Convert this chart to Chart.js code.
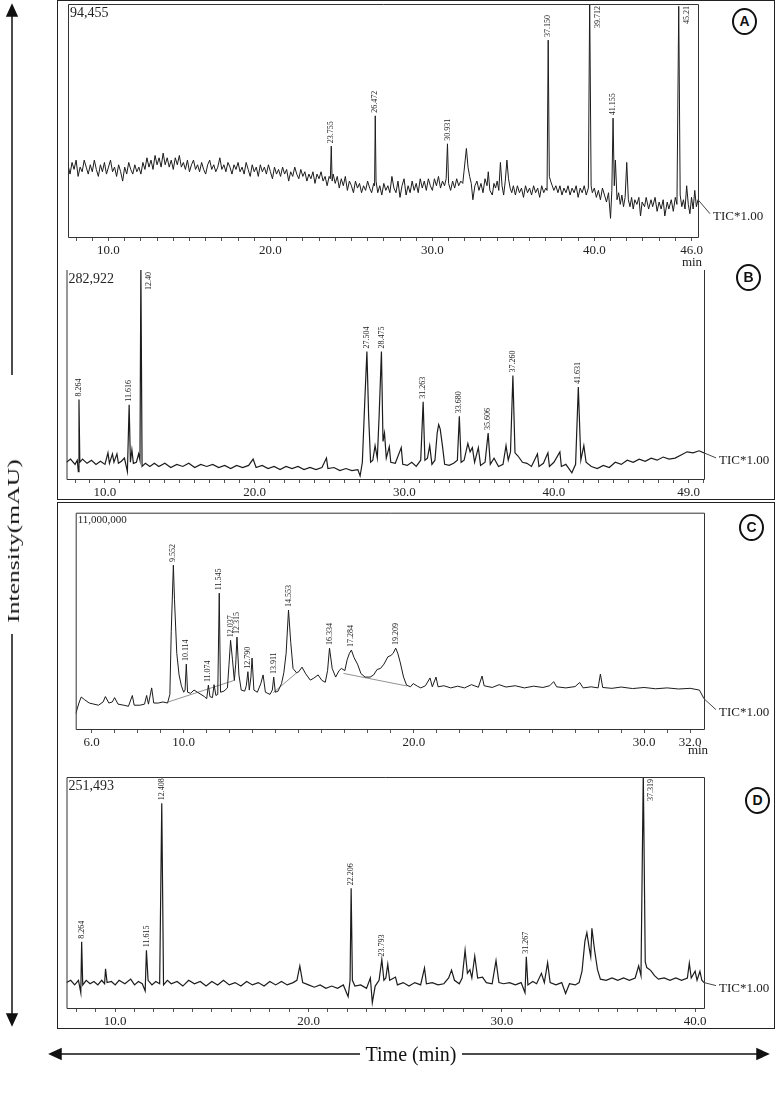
<!DOCTYPE html>
<html>
<head>
<meta charset="utf-8">
<script src="https://cdn.jsdelivr.net/npm/chart.js@4.4.1/dist/chart.umd.min.js"></script>
<style>
  body { margin: 0; background: #fff; width: 775px; height: 1109px; position: relative; overflow: hidden; font-family: "Liberation Serif", serif; }
  .frame { position: absolute; left: 57px; width: 718px; border: 1.5px solid #222; box-sizing: border-box; }
  canvas { position: absolute; left: 57px; }
  .tag { position: absolute; width: 25px; height: 27px; margin: -13px 0 0 -12px; border: 2.5px solid #111; border-radius: 50%; box-sizing: border-box;
         font: bold 14px "Liberation Sans", sans-serif; text-align: center; line-height: 22px; color: #111; background: #fff; }
  #ylab { position: absolute; left: 14px; top: 541px; white-space: nowrap; font-size: 16px; color: #111;
          transform: translate(-50%, -50%) rotate(-90deg) scaleX(1.6); }
  #xlab { position: absolute; left: 411px; top: 1054px; white-space: nowrap; font-size: 20px; color: #111; transform: translate(-50%, -50%); }
</style>
</head>
<body>
<div class="frame" style="top:0;height:500px"></div>
<div class="frame" style="top:502px;height:527px"></div>

<canvas id="chartA" width="718" height="268" style="top:0"></canvas>
<canvas id="chartB" width="718" height="232" style="top:268px"></canvas>
<canvas id="chartC" width="718" height="267" style="top:503px"></canvas>
<canvas id="chartD" width="718" height="258" style="top:770px"></canvas>

<div class="tag" style="left:744px;top:21px">A</div>
<div class="tag" style="left:748px;top:277px">B</div>
<div class="tag" style="left:751px;top:527px">C</div>
<div class="tag" style="left:757px;top:800px">D</div>

<svg width="775" height="1109" style="position:absolute;left:0;top:0;pointer-events:none">
  <g stroke="#111" stroke-width="1.5" fill="#111">
    <line x1="12" y1="14" x2="12" y2="375"/>
    <line x1="12" y1="634" x2="12" y2="1016"/>
    <polygon points="12,5 7,16 17,16"/>
    <polygon points="12,1025 7,1014 17,1014"/>
    <line x1="60" y1="1054" x2="360" y2="1054"/>
    <line x1="462" y1="1054" x2="758" y2="1054"/>
    <polygon points="50,1054 61,1049 61,1059"/>
    <polygon points="768,1054 757,1049 757,1059"/>
  </g>
</svg>
<div id="ylab">Intensity(mAU)</div>
<div id="xlab">Time (min)</div>

<script>
// retention time (min), relative intensity (% of full scale)
const traceA = [
  [7.5,31],[7.625,27],[7.75,32],[7.875,29],[8.0,33],[8.125,26],[8.25,30],[8.375,28],[8.5,33],[8.625,30],
  [8.75,27],[8.875,31],[9.0,28],[9.125,33],[9.25,29],[9.375,26],[9.5,31],[9.625,28],[9.75,32],[9.875,27],
  [10.0,30],[10.125,33],[10.25,28],[10.375,30],[10.5,26],[10.625,31],[10.75,28],[10.875,24],[11.0,30],[11.125,27],
  [11.25,32],[11.375,29],[11.5,27],[11.625,31],[11.75,28],[11.875,30],[12.0,27],[12.125,32],[12.25,29],[12.375,34],
  [12.5,30],[12.625,33],[12.75,29],[12.875,35],[13.0,31],[13.125,34],[13.25,30],[13.375,36],[13.5,31],[13.625,34],
  [13.75,30],[13.875,33],[14.0,29],[14.125,34],[14.25,31],[14.375,35],[14.5,30],[14.625,32],[14.75,29],[14.875,33],
  [15.0,28],[15.125,31],[15.25,33],[15.375,29],[15.5,31],[15.625,28],[15.75,32],[15.875,29],[16.0,27],[16.125,31],
  [16.25,33],[16.375,29],[16.5,31],[16.625,28],[16.75,30],[16.875,34],[17.0,29],[17.125,31],[17.25,28],[17.375,32],
  [17.5,30],[17.625,27],[17.75,31],[17.875,29],[18.0,32],[18.125,28],[18.25,30],[18.375,27],[18.5,32],[18.625,29],
  [18.75,26],[18.875,31],[19.0,28],[19.125,30],[19.25,26],[19.375,31],[19.5,28],[19.625,30],[19.75,27],[19.875,31],
  [20.0,28],[20.125,25],[20.25,30],[20.375,27],[20.5,29],[20.625,26],[20.75,30],[20.875,27],[21.0,29],[21.125,24],
  [21.25,28],[21.375,26],[21.5,30],[21.625,27],[21.75,25],[21.875,29],[22.0,26],[22.125,28],[22.25,24],[22.375,27],
  [22.5,25],[22.625,28],[22.75,23],[22.875,27],[23.0,25],[23.125,28],[23.25,24],[23.375,26],[23.5,22],[23.625,26],
  [23.7,25],[23.755,39],[23.81,24],[23.875,27],[24.0,23],[24.125,26],[24.25,21],[24.375,25],[24.5,22],[24.625,26],
  [24.75,20],[24.875,24],[25.0,22],[25.125,19],[25.25,24],[25.375,21],[25.5,23],[25.625,19],[25.75,22],[25.875,20],
  [26.0,24],[26.125,21],[26.25,19],[26.375,23],[26.43,22],[26.472,52],[26.52,24],[26.625,19],[26.75,22],[26.875,18],
  [27.0,23],[27.125,20],[27.25,22],[27.375,19],[27.5,26],[27.625,21],[27.75,19],[27.875,24],[28.0,17],[28.125,22],
  [28.25,25],[28.375,18],[28.5,22],[28.625,19],[28.75,24],[28.875,20],[29.0,23],[29.125,19],[29.25,25],[29.375,21],
  [29.5,24],[29.625,20],[29.75,25],[29.875,22],[30.0,20],[30.125,25],[30.25,22],[30.375,26],[30.5,21],[30.625,24],
  [30.75,22],[30.85,25],[30.931,40],[31.0,23],[31.125,20],[31.25,24],[31.375,21],[31.5,25],[31.625,22],[31.75,24],
  [31.875,23],[31.95,28],[32.1,38],[32.2,30],[32.3,26],[32.4,23],[32.5,16],[32.625,22],[32.75,24],[32.875,20],
  [33.0,23],[33.125,19],[33.25,25],[33.375,22],[33.45,28],[33.55,20],[33.7,18],[33.8,23],[33.9,21],[34.0,24],
  [34.1,20],[34.2,32],[34.3,22],[34.4,18],[34.5,24],[34.6,33],[34.7,25],[34.8,21],[34.9,19],[35.0,22],
  [35.125,18],[35.25,22],[35.375,19],[35.5,21],[35.625,17],[35.75,22],[35.875,19],[36.0,21],[36.125,18],[36.25,22],
  [36.375,19],[36.5,21],[36.625,17],[36.75,22],[36.875,19],[37.0,21],[37.08,20],[37.15,84.5],[37.22,26],[37.3,24],
  [37.4,22],[37.5,20],[37.625,22],[37.75,19],[37.875,22],[38.0,18],[38.125,21],[38.25,19],[38.375,22],[38.5,18],
  [38.625,21],[38.75,19],[38.875,22],[39.0,17],[39.125,21],[39.25,19],[39.375,22],[39.5,18],[39.63,21],[39.712,102],
  [39.8,22],[39.875,19],[40.0,21],[40.125,17],[40.25,20],[40.375,16],[40.5,21],[40.625,18],[40.75,15],[40.875,19],
  [41.0,8],[41.08,20],[41.155,51],[41.23,22],[41.3,33],[41.4,16],[41.5,19],[41.6,14],[41.7,18],[41.8,13],
  [41.9,17],[42.0,32],[42.1,16],[42.2,13],[42.3,17],[42.4,12],[42.5,16],[42.625,14],[42.75,17],[42.85,9],
  [42.95,15],[43.1,13],[43.2,17],[43.35,12],[43.5,16],[43.6,13],[43.75,17],[43.875,11],[44.0,15],[44.125,12],
  [44.25,16],[44.35,9],[44.5,15],[44.6,12],[44.75,16],[44.875,11],[45.0,17],[45.1,14],[45.21,99],[45.3,18],
  [45.4,13],[45.5,16],[45.6,12],[45.7,22],[45.8,14],[45.9,10],[46.0,17],[46.1,12],[46.2,20],[46.3,13],
  [46.4,16]
];
const peaksA = [[23.755,'23.755'],[26.472,'26.472'],[30.931,'30.931'],[37.15,'37.150'],[39.712,'39.712'],[41.155,'41.155'],[45.21,'45.21']];
const ticksA = [10, 20, 30, 40, 46];

const traceB = [
  [7.43,8],[7.7,9.5],[8.0,7],[8.15,9],[8.22,3.5],[8.264,38],[8.32,8],[8.5,9.5],[8.8,7.5],[9.1,9],
  [9.4,7],[9.7,8.5],[10.0,7],[10.2,12.5],[10.3,7.5],[10.5,12],[10.6,8],[10.8,12],[10.9,7.5],[11.1,8.5],
  [11.3,10],[11.5,3.5],[11.616,35.5],[11.7,8],[11.8,14],[11.9,7.5],[12.1,8],[12.25,12],[12.34,9],[12.4,102],
  [12.48,6],[12.7,7.5],[13.0,6],[13.3,7.5],[13.6,6],[14.0,7.5],[14.4,5.5],[14.8,7],[15.2,6],[15.6,7.5],
  [16.0,5.5],[16.4,7],[16.8,6],[17.2,7],[17.6,5.5],[18.0,6.5],[18.4,5],[18.8,6.5],[19.2,5.5],[19.6,6.5],
  [19.9,9.5],[20.1,5.5],[20.5,6.5],[20.9,5],[21.3,6],[21.7,4.5],[22.1,6],[22.5,5],[22.9,6],[23.3,4.5],
  [23.7,5.5],[24.1,4.5],[24.5,5.5],[24.8,10],[24.9,5],[25.3,5.5],[25.7,4],[26.1,5],[26.5,4],[26.9,4.5],
  [27.05,1.5],[27.2,8],[27.35,35],[27.504,61],[27.62,30],[27.75,8],[27.9,9],[28.05,16],[28.2,10],[28.32,30],
  [28.475,61],[28.58,18],[28.68,22],[28.8,10],[29.0,15.5],[29.1,8],[29.4,7.5],[29.8,15],[29.9,7],[30.2,6.5],
  [30.5,8],[30.8,6],[31.1,9],[31.263,37],[31.38,9],[31.55,10],[31.7,16],[31.85,7],[32.05,9],[32.2,22],
  [32.3,26],[32.4,24],[32.55,16],[32.7,7],[33.0,6.5],[33.3,7.5],[33.55,9],[33.68,30],[33.8,8],[34.0,9],
  [34.25,17],[34.4,13],[34.55,15],[34.7,8],[34.95,15],[35.1,6.5],[35.4,8],[35.606,22],[35.75,7],[36.0,10],
  [36.3,6],[36.6,7],[36.8,16],[36.95,9],[37.1,13],[37.26,49.5],[37.4,12.5],[37.6,11],[37.9,8],[38.2,7.5],
  [38.5,6],[38.9,12],[39.0,6],[39.3,7.5],[39.6,12.5],[39.7,6],[40.0,8],[40.4,13],[40.5,6],[40.8,7],
  [41.2,3],[41.45,7],[41.631,44],[41.8,9],[42.0,16],[42.15,8],[42.5,6],[42.9,5],[43.3,6.5],[43.7,5.5],
  [44.1,8],[44.5,7],[44.9,9],[45.3,8],[45.7,9.5],[46.1,8.5],[46.5,10],[46.9,9],[47.3,10.5],[47.7,9.5],
  [48.1,10],[48.5,11.5],[48.9,13],[49.3,12.5],[49.7,13.5],[50.03,12.5]
];
const peaksB = [[8.264,'8.264'],[11.616,'11.616'],[12.4,'12.40'],[27.504,'27.504'],[28.475,'28.475'],[31.263,'31.263'],[33.68,'33.680'],[35.606,'35.606'],[37.26,'37.260'],[41.631,'41.631']];
const ticksB = [10, 20, 30, 40, 49];

const traceC = [
  [5.31,7],[5.45,12],[5.55,14.8],[5.7,13.5],[5.9,12],[6.1,11.5],[6.3,11],[6.5,12.5],[6.6,15],[6.75,12],
  [6.9,12.5],[7.0,14.5],[7.15,11.5],[7.4,11],[7.6,10.5],[7.77,15.5],[7.85,11],[8.1,11],[8.3,11.5],[8.39,15.5],
  [8.47,11.5],[8.61,19],[8.7,12],[8.9,12],[9.1,12.5],[9.3,12],[9.4,16],[9.46,45],[9.552,75.8],[9.6,60],
  [9.7,35],[9.8,25],[9.9,20],[10.0,17],[10.06,18],[10.114,30],[10.17,17],[10.3,16.5],[10.45,18],[10.6,17],
  [10.75,16],[10.9,15],[11.0,14],[11.074,20.3],[11.14,15],[11.25,14.5],[11.32,20.5],[11.4,15.5],[11.48,16],[11.545,62.8],
  [11.6,17],[11.75,17.5],[11.9,19],[11.97,30],[12.037,41],[12.12,32],[12.2,22.5],[12.26,30],[12.315,42.5],[12.4,25],
  [12.5,18],[12.65,17.5],[12.72,20],[12.79,26.5],[12.85,18],[12.92,24],[12.97,32.8],[13.05,18],[13.2,17],[13.35,21],
  [13.45,25],[13.55,17],[13.75,16],[13.85,18],[13.911,24],[13.98,17],[14.1,17.5],[14.25,21],[14.35,26],[14.45,35],
  [14.553,55],[14.65,40],[14.75,28],[14.9,26],[15.0,26.5],[15.14,28.6],[15.3,25.5],[15.5,22.6],[15.65,23.5],[15.84,25],
  [16.0,22.5],[16.15,21.6],[16.25,27],[16.334,37.4],[16.45,28],[16.6,24],[16.75,27],[16.85,28],[17.0,27],[17.1,32],
  [17.2,35],[17.284,36.5],[17.4,33],[17.55,30],[17.7,25.6],[17.88,24],[18.1,24],[18.25,25],[18.4,27.5],[18.55,28],
  [18.7,30],[18.87,33.4],[19.0,34],[19.1,35],[19.209,37.4],[19.3,35],[19.4,31],[19.55,24],[19.68,20.3],[19.85,19.5],
  [19.97,21],[20.15,19.8],[20.3,19],[20.5,20],[20.7,23.6],[20.8,19.5],[20.96,24],[21.05,19.5],[21.3,20],[21.6,19],
  [21.9,19.8],[22.2,19],[22.5,20.5],[22.8,19.3],[22.96,24.5],[23.05,20],[23.4,19.2],[23.7,20.5],[24.0,19.4],[24.4,20],
  [24.8,19],[25.2,19.8],[25.6,19.2],[25.9,20],[26.07,21.9],[26.2,19.5],[26.6,19],[27.0,19.6],[27.2,21.5],[27.35,19],
  [27.7,19.5],[28.0,19],[28.1,25.4],[28.2,19.2],[28.6,18.8],[29.0,19.4],[29.5,18.7],[30.0,19.2],[30.5,18.6],[31.0,19],
  [31.5,18.5],[32.0,18.8],[32.4,18],[32.6,14]
];
const peaksC = [[9.552,'9.552'],[10.114,'10.114'],[11.074,'11.074'],[11.545,'11.545'],[12.037,'12.037'],[12.315,'12.315'],[12.79,'12.790'],[13.911,'13.911'],[14.553,'14.553'],[16.334,'16.334'],[17.284,'17.284'],[19.209,'19.209']];
const baselinesC = [[[9.33,12.5],[12.23,22.6]], [[13.89,16.8],[14.91,26]], [[16.94,25.7],[19.69,19.9]]];
const ticksC = [6, 10, 20, 30, 32];

const traceD = [
  [7.48,11],[7.7,12],[7.9,10],[8.1,12],[8.22,6.6],[8.264,28.7],[8.32,10],[8.5,12],[8.7,10.5],[8.9,11.5],
  [9.1,10],[9.3,12],[9.45,10.5],[9.5,17],[9.58,11],[9.8,11.5],[10.0,10],[10.2,12],[10.5,10.5],[10.8,12.5],
  [11.0,10],[11.2,11.5],[11.4,10.5],[11.55,7.4],[11.615,25],[11.7,12],[11.9,10],[12.1,11.5],[12.3,10.5],[12.408,88.6],
  [12.5,10],[12.7,12],[12.9,10.5],[13.2,11.5],[13.5,9.5],[13.8,12],[14.1,10.5],[14.4,11.5],[14.7,9.5],[15.0,11.5],
  [15.3,10],[15.6,12],[15.9,10],[16.2,11],[16.5,9.5],[16.8,11.5],[17.1,10],[17.4,11],[17.7,9.5],[18.0,11.5],
  [18.3,10],[18.6,11.5],[18.9,10],[19.2,11],[19.4,12],[19.55,18.2],[19.7,11],[20.0,10],[20.3,9],[20.6,10],
  [20.9,8.5],[21.2,9.5],[21.5,8.5],[21.8,10],[22.05,4.9],[22.15,12],[22.206,51.8],[22.27,12],[22.4,9.5],[22.7,10],
  [23.0,8.5],[23.2,13],[23.3,2.3],[23.45,9.5],[23.65,12],[23.793,21],[23.9,12],[24.0,13],[24.1,19],[24.2,12],
  [24.5,13.4],[24.6,10],[24.9,11],[25.2,9.5],[25.5,11],[25.8,10],[26.0,17.3],[26.1,10.5],[26.4,11],[26.7,10],
  [27.0,10.5],[27.25,13],[27.4,16.4],[27.55,12],[27.8,10.5],[27.95,13],[28.1,25],[28.22,15],[28.35,16.6],[28.45,13],
  [28.6,22.5],[28.75,13],[29.0,13.4],[29.2,11],[29.5,10.5],[29.7,20.5],[29.85,11],[30.1,10.5],[30.4,11],[30.7,10],
  [31.0,11],[31.2,6.6],[31.267,22.2],[31.35,10],[31.6,11.5],[31.8,10.5],[32.05,15],[32.2,11],[32.37,19.6],[32.5,11],
  [32.8,10],[33.1,11],[33.3,6.3],[33.5,10.5],[33.8,10],[34.0,11],[34.15,16],[34.3,29],[34.4,32.6],[34.52,26],
  [34.6,22.2],[34.66,34.5],[34.8,25],[34.95,16.6],[35.1,12.5],[35.4,12],[35.7,13],[36.0,12],[36.3,13],[36.6,12],
  [36.9,13],[37.08,18.2],[37.2,14],[37.319,102],[37.42,20],[37.5,17.5],[37.7,16.3],[37.9,14],[38.1,12.5],[38.4,13],
  [38.7,12],[39.0,13],[39.3,12],[39.6,13],[39.7,19.4],[39.8,13],[40.0,15.9],[40.1,12],[40.25,15.9],[40.35,12],
  [40.46,11]
];
const peaksD = [[8.264,'8.264'],[11.615,'11.615'],[12.408,'12.408'],[22.206,'22.206'],[23.793,'23.793'],[31.267,'31.267'],[37.319,'37.319']];
const ticksD = [10, 20, 30, 40];

const fullScale = { A: '94,455', B: '282,922', C: '11,000,000', D: '251,493' };

// annotations: frame box, full-scale label, peak labels, TIC tail
const chromPlugin = {
  id: 'chrom',
  afterDatasetsDraw(chart, args, o) {
    const { ctx, chartArea: a, scales: { x, y } } = chart;
    ctx.save();
    ctx.strokeStyle = '#333';
    ctx.lineWidth = 1;
    ctx.beginPath();
    if (o.openTop) {
      ctx.moveTo(a.left + 0.5, a.top);
      ctx.lineTo(a.left + 0.5, a.bottom + 0.5);
      ctx.lineTo(a.right + 0.5, a.bottom + 0.5);
      ctx.lineTo(a.right + 0.5, a.top);
    } else {
      ctx.rect(a.left + 0.5, a.top + 0.5, a.right - a.left, a.bottom - a.top);
    }
    ctx.stroke();

    ctx.fillStyle = '#222';
    ctx.font = o.scaleFont;
    ctx.textAlign = 'left';
    ctx.textBaseline = 'top';
    ctx.fillText(o.scaleLabel, a.left + 2, a.top + 2);

    const pts = chart.data.datasets[0].data;
    ctx.font = '8px "Liberation Serif"';
    o.peaks.forEach(([t, txt]) => {
      const p = pts.find(d => d.x === t);
      const px = x.getPixelForValue(t);
      ctx.save();
      if (p.y >= 98) {
        ctx.translate(px + 4, a.top + 2);
        ctx.rotate(-Math.PI / 2);
        ctx.textAlign = 'right';
        ctx.textBaseline = 'top';
      } else {
        ctx.translate(px, y.getPixelForValue(p.y) - 3);
        ctx.rotate(-Math.PI / 2);
        ctx.textAlign = 'left';
        ctx.textBaseline = 'middle';
      }
      ctx.fillText(txt, 0, 0);
      ctx.restore();
    });

    // TIC*1.00 tail
    const last = pts[pts.length - 1];
    const ex = x.getPixelForValue(last.x), ey = y.getPixelForValue(last.y);
    const tx = a.right + 15, ty = ey + o.ticDy;
    ctx.strokeStyle = '#444';
    ctx.beginPath();
    ctx.moveTo(ex, ey);
    ctx.lineTo(tx - 3, ty - 3);
    ctx.stroke();
    ctx.font = '13px "Liberation Serif"';
    ctx.textBaseline = 'middle';
    ctx.fillText('TIC*1.00', tx, ty);

    if (o.minDy) {
      ctx.textAlign = 'center';
      ctx.fillText('min', a.right - 6, a.bottom + o.minDy);
    }
    ctx.restore();
  }
};

function makePanel(id, trace, peaks, tickLabels, min, max, pad, extra) {
  const datasets = [{
    data: trace.map(([t, v]) => ({ x: t, y: v })),
    borderColor: '#1c1c1c',
    borderWidth: extra.lineWidth || 1.2,
    pointRadius: 0,
    tension: 0,
    clip: 0
  }];
  (extra.baselines || []).forEach(seg => datasets.push({
    data: seg.map(([t, v]) => ({ x: t, y: v })),
    borderColor: '#777',
    borderWidth: 0.8,
    pointRadius: 0,
    clip: 0
  }));
  new Chart(document.getElementById(id), {
    type: 'line',
    data: { datasets },
    plugins: [chromPlugin],
    options: {
      responsive: false,
      animation: false,
      devicePixelRatio: 1,
      layout: { padding: pad },
      plugins: {
        legend: { display: false },
        tooltip: { enabled: false },
        chrom: {
          peaks,
          scaleLabel: extra.scaleLabel,
          scaleFont: extra.scaleFont,
          openTop: !!extra.openTop,
          ticDy: extra.ticDy,
          minDy: extra.minDy
        }
      },
      scales: {
        x: {
          type: 'linear',
          min, max,
          afterBuildTicks: s => {
            const t = [];
            for (let v = Math.ceil(s.min); v <= Math.floor(s.max); v++) t.push({ value: v });
            s.ticks = t;
          },
          afterFit: s => { s.height = 20; },
          ticks: {
            autoSkip: false,
            maxRotation: 0,
            padding: 2,
            color: '#222',
            font: { family: 'Liberation Serif', size: 13 },
            callback: v => tickLabels.includes(v) ? v.toFixed(1) : ''
          },
          grid: { drawOnChartArea: false, tickLength: 4, color: '#555', lineWidth: 1 },
          border: { display: false }
        },
        y: { display: false, min: 0, max: 100 }
      }
    }
  });
}

makePanel('chartA', traceA, peaksA, ticksA, 7.5, 46.4,
  { left: 11, right: 77, top: 4, bottom: 11 },
  { scaleLabel: fullScale.A, scaleFont: '14px "Liberation Serif"', ticDy: 17, minDy: 26, lineWidth: 1 });
makePanel('chartB', traceB, peaksB, ticksB, 7.43, 50.03,
  { left: 9.5, right: 71, top: 2, bottom: 1 },
  { scaleLabel: fullScale.B, scaleFont: '14px "Liberation Serif"', ticDy: 8, openTop: true });
makePanel('chartC', traceC, peaksC, ticksC, 5.31, 32.6,
  { left: 18.7, right: 71, top: 9.7, bottom: 21 },
  { scaleLabel: fullScale.C, scaleFont: '11px "Liberation Serif"', ticDy: 14, minDy: 22, baselines: baselinesC, lineWidth: 1 });
makePanel('chartD', traceD, peaksD, ticksD, 7.48, 40.46,
  { left: 9.5, right: 71, top: 7, bottom: 0 },
  { scaleLabel: fullScale.D, scaleFont: '14px "Liberation Serif"', ticDy: 6 });
</script>
</body>
</html>
